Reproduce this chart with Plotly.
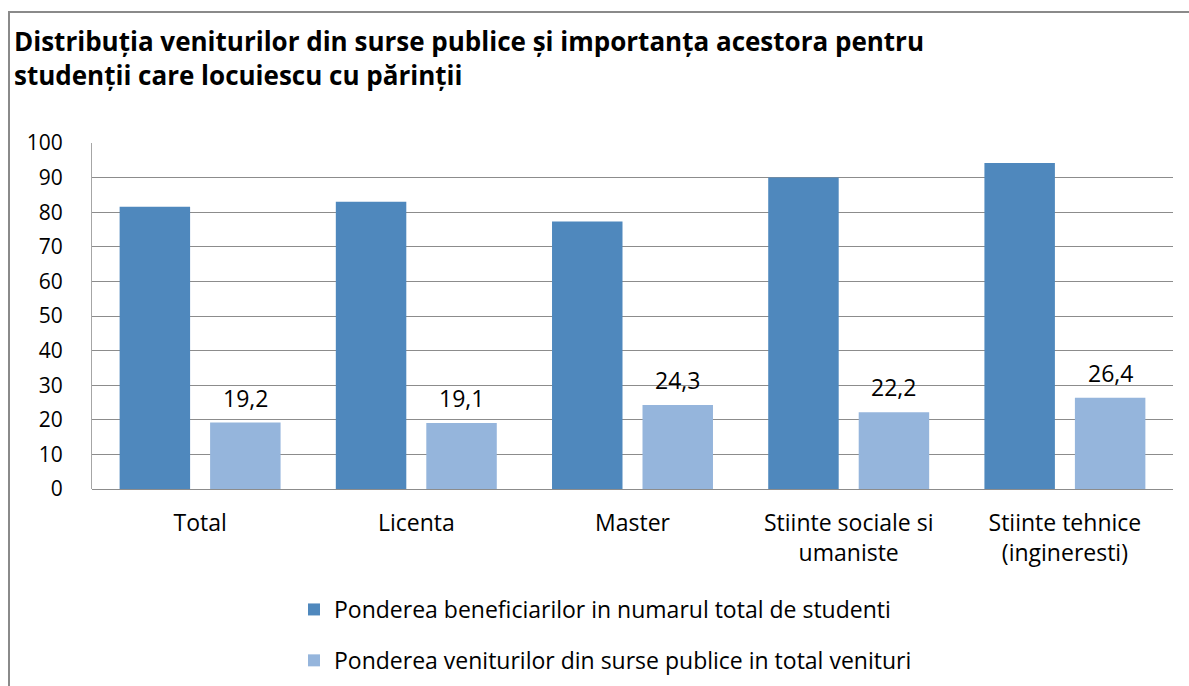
import plotly.graph_objects as go

categories = ["Total", "Licenta", "Master", "Stiinte sociale si<br>umaniste", "Stiinte tehnice<br>(ingineresti)"]
beneficiari = [81.6, 83.0, 77.3, 90.0, 94.2]
venituri = [19.2, 19.1, 24.3, 22.2, 26.4]
series_names = ["Ponderea beneficiarilor in numarul total de studenti",
                "Ponderea veniturilor din surse publice in total venituri"]
y_ticks = list(range(0, 101, 10))

W, H = 1189, 686
L, R, T, B = 92, 16, 143, 197
FONT = "Open Sans"
BARGAP, GROUPGAP = 0.163, 0.221

fig = go.Figure()
fig.add_trace(go.Bar(x=categories, y=beneficiari, name=series_names[0],
                     marker=dict(color="#4F88BD", line=dict(width=0)),
                     legendgroup="a"))
fig.add_trace(go.Bar(x=categories, y=venituri, name=series_names[1],
                     marker=dict(color="#95B5DC", line=dict(width=0)),
                     legendgroup="b"))

pw = W - L - R
ph = H - T - B
def px_x(x):
    return (x - L) / pw
def px_y(y):
    return (H - B - y) / ph

# value labels above the light bars (offset to the second bar of each group)
cat_w = pw / len(categories)
slot = cat_w * (1 - BARGAP) / 2
for c, v in zip(categories, venituri):
    fig.add_annotation(x=c, y=v, xref="x", yref="y", text=f"{v:.1f}".replace(".", ","),
                       showarrow=False, xshift=slot / 2, yshift=25,
                       yanchor="middle",
                       font=dict(size=23, family=FONT, color="#000000"))

fig.update_layout(
    width=W, height=H,
    margin=dict(l=L, r=R, t=T, b=B, autoexpand=False),
    paper_bgcolor="white", plot_bgcolor="white",
    separators=",.",
    barmode="group", bargap=BARGAP, bargroupgap=GROUPGAP,
    font=dict(family=FONT, size=21, color="#000000"),
    title=dict(text="<b>Distribuția veniturilor din surse publice și importanța acestora pentru<br>studenții care locuiescu cu părinții</b>",
               x=14 / W, xanchor="left", xref="container",
               y=1 - 51 / H, yanchor="top", yref="container",
               font=dict(family=FONT, size=26, color="#000000")),
    xaxis=dict(showgrid=False, showline=False, ticks="", ticklabelstandoff=18,
               tickfont=dict(size=23, family=FONT, color="#000000")),
    yaxis=dict(range=[0, 100], tickvals=y_ticks, showgrid=True,
               gridcolor="#8C8C8C", gridwidth=1, zeroline=True,
               zerolinecolor="#8C8C8C", zerolinewidth=1,
               showline=True, linecolor="#A6A6A6", linewidth=1,
               ticks="", ticklabelstandoff=24,
               tickfont=dict(size=21, family=FONT, color="#000000")),
    legend=dict(x=px_x(294), xanchor="left", y=px_y(588), yanchor="top",
                traceorder="grouped", tracegroupgap=18,
                font=dict(size=23, family=FONT, color="#000000"),
                bgcolor="rgba(0,0,0,0)", itemwidth=30),
    showlegend=True,
    shapes=[dict(type="rect", xref="paper", yref="paper",
                 x0=px_x(9), x1=px_x(1300), y0=px_y(800), y1=px_y(12),
                 line=dict(color="#8A8A8A", width=2), fillcolor="rgba(0,0,0,0)",
                 layer="below")],
)

fig.write_html("out.html", config={"displayModeBar": False},
               post_script="document.body.style.margin='0px';")
